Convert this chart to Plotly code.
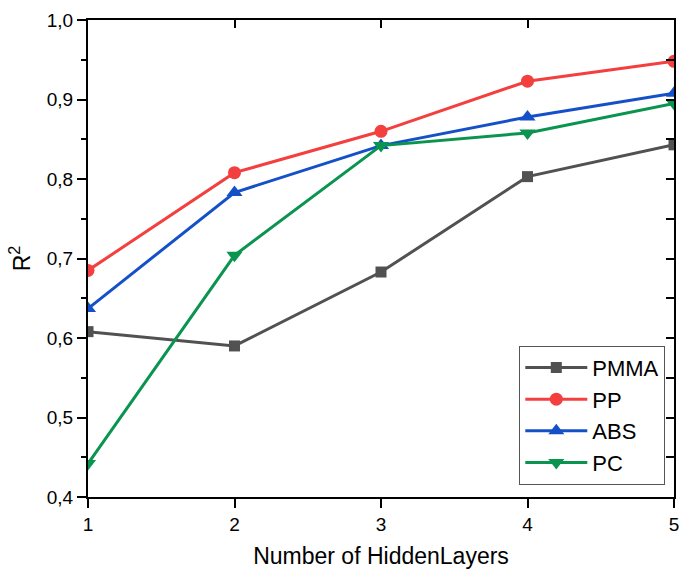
import plotly.graph_objects as go

# Number of hidden layers and the R² reached by each polymer
hidden_layers = [1, 2, 3, 4, 5]
pmma = [0.608, 0.590, 0.683, 0.803, 0.843]
pp = [0.685, 0.808, 0.860, 0.923, 0.948]
abs_ = [0.637, 0.783, 0.842, 0.878, 0.908]
pc = [0.442, 0.704, 0.842, 0.858, 0.895]

series = [
    ("PMMA", pmma, "#515151", "square", 11),
    ("PP", pp, "#F43F3F", "circle", 13),
    ("ABS", abs_, "#1450C8", "triangle-up", 14),
    ("PC", pc, "#0A9450", "triangle-down", 14),
]

FONT = "Liberation Sans, Arial, sans-serif"

fig = go.Figure()
for name, vals, color, symbol, size in series:
    fig.add_trace(go.Scatter(
        x=hidden_layers, y=vals, name=name, mode="lines+markers",
        line=dict(color=color, width=3),
        marker=dict(symbol=symbol, size=size, color=color),
    ))

# transparent trace that anchors the mirrored top/right tick axes
fig.add_trace(go.Scatter(
    x=hidden_layers, y=pmma, xaxis="x2", yaxis="y2", mode="lines",
    line=dict(color="rgba(0,0,0,0)"), showlegend=False, hoverinfo="skip",
))

fig.update_layout(
    width=683, height=570,
    margin=dict(l=88, r=4, t=20, b=73),
    paper_bgcolor="white", plot_bgcolor="white",
    separators=", ",
    font=dict(family=FONT, color="black", size=19),
    showlegend=True,
    legend=dict(
        x=0.736, y=0.317, xanchor="left", yanchor="top",
        bgcolor="white", bordercolor="#555555", borderwidth=1,
        font=dict(size=22, family=FONT),
        tracegroupgap=0, itemwidth=62,
    ),
    xaxis=dict(
        range=[1, 5], dtick=1, tick0=1,
        showline=True, linecolor="black", linewidth=2, mirror=True,
        ticks="outside", ticklen=9, tickwidth=2, tickcolor="black",
        showgrid=False, zeroline=False,
        tickfont=dict(size=19),
        title=dict(text="Number of HiddenLayers", font=dict(size=23), standoff=14),
    ),
    yaxis=dict(
        range=[0.4, 1.0], dtick=0.1, tick0=0.4, tickformat=".1f",
        showline=True, linecolor="black", linewidth=2, mirror=True,
        ticks="outside", ticklen=9, tickwidth=2, tickcolor="black",
        minor=dict(dtick=0.05, ticks="outside", ticklen=5, tickwidth=2,
                   tickcolor="black", showgrid=False),
        showgrid=False, zeroline=False,
        tickfont=dict(size=19),
        title=dict(text="R<sup>2</sup>", font=dict(size=23), standoff=10),
    ),
    xaxis2=dict(
        overlaying="x", side="top", range=[1, 5], dtick=1, tick0=1,
        ticks="inside", ticklen=8, tickwidth=2, tickcolor="black",
        showticklabels=False, showline=False, showgrid=False, zeroline=False,
    ),
    yaxis2=dict(
        overlaying="y", side="right", range=[0.4, 1.0], dtick=0.05, tick0=0.4,
        ticks="inside", ticklen=8, tickwidth=2, tickcolor="black",
        showticklabels=False, showline=False, showgrid=False, zeroline=False,
    ),
)

fig.write_html("out.html")
